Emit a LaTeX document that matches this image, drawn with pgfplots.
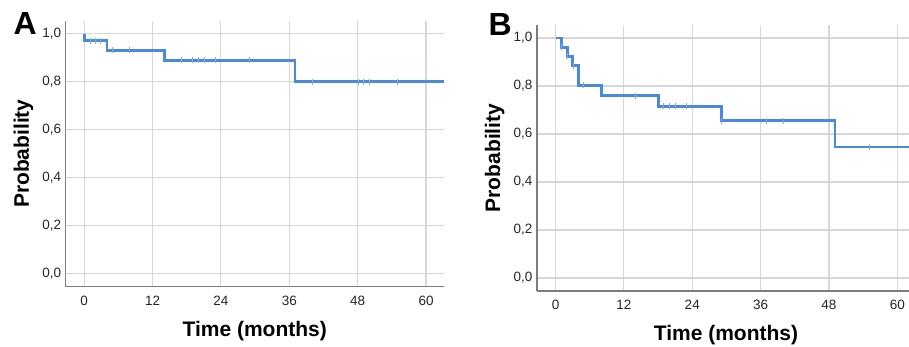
\documentclass[border=0pt]{standalone}
\usepackage{fontspec}
\setmainfont{Liberation Sans}
\usepackage{pgfplots}
\pgfplotsset{compat=1.18}
\definecolor{kmblue}{RGB}{74,138,220}
\definecolor{gridgray}{RGB}{214,214,214}
\definecolor{axgray}{RGB}{125,125,125}
\pgfplotsset{
  kmaxis/.style={
    scale only axis,
    width=378pt, height=266pt,
    anchor=south west,
    xmin=-3.25, xmax=63.1,
    ymin=-0.054, ymax=1.054,
    xtick={0,12,24,36,48,60},
    ytick={0,0.2,0.4,0.6,0.8,1.0},
    yticklabels={0{,}0,0{,}2,0{,}4,0{,}6,0{,}8,1{,}0},
    /pgf/number format/assume math mode=true,
    tick label style={font=\fontsize{13.5}{15}\selectfont, text=black!85},
    major tick length=0pt,
    grid=major,
    major grid style={gridgray, line width=1.1pt},
    axis x line*=bottom, axis y line*=left,
    axis line style={axgray, line width=1.3pt, -},
    xlabel={\textbf{Time (months)}},
    ylabel={\textbf{Probability}},
    label style={font=\fontsize{21}{24}\selectfont},
    xlabel style={at={(axis description cs:0.5,0)}, anchor=north, yshift=-31pt},
    ylabel style={at={(axis description cs:0,0.5)}, anchor=south, yshift=29pt},
    xticklabel style={yshift=-6pt},
    yticklabel style={xshift=-1pt},
    clip=false,
  }
}
\begin{document}
\begin{tikzpicture}[x=1pt,y=1pt]
\path[use as bounding box, clip] (0,0) rectangle (909,347);
% Panel A
\begin{axis}[kmaxis, at={(65.7pt,60.3pt)}]
\addplot[kmblue, line width=2.9pt, const plot, line join=miter] coordinates {
(0,1.0) (0,0.970) (4.0,0.930) (14.1,0.889) (37.0,0.800) (63.1,0.800)};
\addplot[kmblue!70, only marks, mark=|, mark size=3pt, mark options={line width=0.7pt}] coordinates {
(1.0,0.970) (1.9,0.970) (2.9,0.970)
(5.0,0.930) (8.0,0.930)
(17.0,0.889) (19.0,0.889) (20.0,0.889) (21.0,0.889) (23.0,0.889) (29.0,0.889)
(40.0,0.800) (48.1,0.800) (49.0,0.800) (50.0,0.800) (55.0,0.800)};
\end{axis}
\node[font=\fontsize{32}{34}\selectfont\bfseries, anchor=base west] at (10pt,312pt) {A};
% Panel B
\begin{axis}[kmaxis, at={(537pt,56pt)}]
\addplot[kmblue, line width=2.9pt, const plot, line join=miter] coordinates {
(0,1.0) (1.0,0.962) (2.05,0.924) (3.05,0.885) (3.97,0.803) (8.1,0.760) (18.0,0.715) (29.1,0.656) (49.05,0.546) (63.1,0.546)};
\addplot[kmblue!70, only marks, mark=|, mark size=3pt, mark options={line width=0.7pt}] coordinates {
(1.0,0.962) (2.05,0.924) (3.05,0.885) (4.9,0.803)
(14.0,0.760)
(19.0,0.715) (20.0,0.715) (21.0,0.715) (23.0,0.715)
(29.1,0.656) (37.0,0.656) (40.0,0.656)
(55.0,0.546)};
\end{axis}
\node[font=\fontsize{32}{34}\selectfont\bfseries, anchor=base west] at (485pt,311pt) {B};
\end{tikzpicture}
\end{document}
